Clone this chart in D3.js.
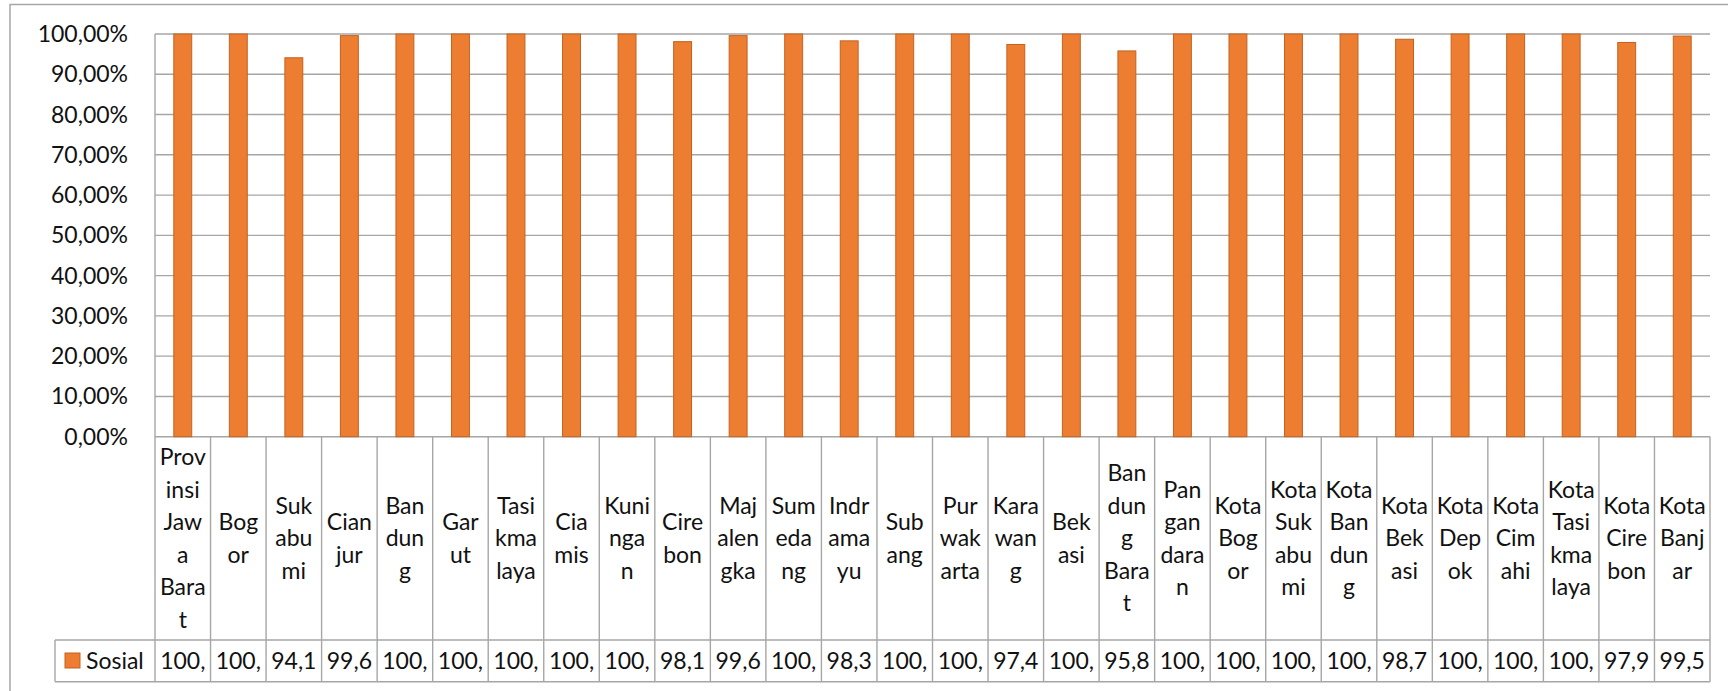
<!DOCTYPE html>
<html>
<head>
<meta charset="utf-8">
<script src="https://cdn.jsdelivr.net/npm/d3@7"></script>
<style>
	body { margin: 0; background: #fff; }
	svg { display: block; font-family: Lato, 'Open Sans', sans-serif; }
</style>
</head>
<body>
<script>
// data
const categories = ['Provinsi Jawa Barat', 'Bogor', 'Sukabumi', 'Cianjur', 'Bandung', 'Garut', 'Tasikmalaya',
	'Ciamis', 'Kuningan', 'Cirebon', 'Majalengka', 'Sumedang', 'Indramayu', 'Subang', 'Purwakarta',
	'Karawang', 'Bekasi', 'Bandung Barat', 'Pangandaran', 'Kota Bogor', 'Kota Sukabumi', 'Kota Bandung',
	'Kota Bekasi', 'Kota Depok', 'Kota Cimahi', 'Kota Tasikmalaya', 'Kota Cirebon', 'Kota Banjar'];

// how each name is broken inside its narrow table cell
const labelLines = [['Prov', 'insi', 'Jaw', 'a', 'Bara', 't'], ['Bog', 'or'], ['Suk', 'abu', 'mi'], ['Cian', 'jur'],
	['Ban', 'dun', 'g'], ['Gar', 'ut'], ['Tasi', 'kma', 'laya'], ['Cia', 'mis'], ['Kuni', 'nga', 'n'], ['Cire', 'bon'],
	['Maj', 'alen', 'gka'], ['Sum', 'eda', 'ng'], ['Indr', 'ama', 'yu'], ['Sub', 'ang'], ['Pur', 'wak', 'arta'],
	['Kara', 'wan', 'g'], ['Bek', 'asi'], ['Ban', 'dun', 'g', 'Bara', 't'], ['Pan', 'gan', 'dara', 'n'],
	['Kota', 'Bog', 'or'], ['Kota', 'Suk', 'abu', 'mi'], ['Kota', 'Ban', 'dun', 'g'], ['Kota', 'Bek', 'asi'],
	['Kota', 'Dep', 'ok'], ['Kota', 'Cim', 'ahi'], ['Kota', 'Tasi', 'kma', 'laya'], ['Kota', 'Cire', 'bon'],
	['Kota', 'Banj', 'ar']];

const seriesName = 'Sosial';
const sosial = [1.000, 1.000, 0.941, 0.996, 1.000, 1.000, 1.000, 1.000, 1.000, 0.981, 0.996, 1.000, 0.983, 1.000,
	1.000, 0.974, 1.000, 0.958, 1.000, 1.000, 1.000, 1.000, 0.987, 1.000, 1.000, 1.000, 0.979, 0.995];

const yTicks = [0, 0.1, 0.2, 0.3, 0.4, 0.5, 0.6, 0.7, 0.8, 0.9, 1];

const width = 1728;
const height = 691;
const plotLeft = 155, plotRight = 1710, plotTop = 34, zero = 436.7;
const rowTop = 640, rowBottom = 681.7, legendLeft = 55;
const grid = '#a6a6a6';
const orange = '#ed7d31';

const loc = d3.formatLocale({ decimal: ',', thousands: '.', grouping: [3], currency: ['', ''] });
const pct = loc.format('.2%');

const svg = d3.select('body').append('svg')
	.attr('width', width)
	.attr('height', height);

// chart area border (runs off the right and bottom of the picture)
svg.append('rect')
	.attr('x', 10).attr('y', 4.5)
	.attr('width', width).attr('height', height)
	.attr('fill', 'none').attr('stroke', grid).attr('stroke-width', 1.5);

const x = d3.scaleBand().domain(categories).range([plotLeft, plotRight]).padding(0);
const y = d3.scaleLinear().domain([0, 1]).range([zero, plotTop]);

// gridlines
svg.append('g').selectAll('line')
	.data(yTicks)
	.enter().append('line')
	.attr('x1', plotLeft).attr('x2', plotRight)
	.attr('y1', d => y(d)).attr('y2', d => y(d))
	.attr('stroke', grid).attr('stroke-width', 1.4);

svg.append('line')
	.attr('x1', plotLeft).attr('x2', plotLeft).attr('y1', plotTop).attr('y2', rowBottom)
	.attr('stroke', grid).attr('stroke-width', 1.4);

// y tick labels
svg.append('g').selectAll('text')
	.data(yTicks)
	.enter().append('text')
	.attr('x', 128)
	.attr('y', d => y(d))
	.attr('dy', '0.35em')
	.attr('text-anchor', 'end')
	.attr('font-size', 23)
	.attr('fill', '#111')
	.text(d => pct(d));

// bars, gap width 210%
const barW = x.bandwidth() / 3.1;
svg.append('g').selectAll('rect')
	.data(sosial)
	.enter().append('rect')
	.attr('x', (d, i) => x(categories[i]) + (x.bandwidth() - barW) / 2)
	.attr('y', d => y(d))
	.attr('width', barW)
	.attr('height', d => zero - y(d))
	.attr('fill', orange)
	.attr('stroke', '#c4621f').attr('stroke-width', 1);

// data table
const table = svg.append('g');

table.selectAll('line.col')
	.data(categories)
	.enter().append('line')
	.attr('class', 'col')
	.attr('x1', d => x(d) + x.bandwidth()).attr('x2', d => x(d) + x.bandwidth())
	.attr('y1', zero).attr('y2', rowBottom)
	.attr('stroke', grid).attr('stroke-width', 1.4);

table.append('line')
	.attr('x1', legendLeft).attr('x2', plotRight).attr('y1', rowTop).attr('y2', rowTop)
	.attr('stroke', grid).attr('stroke-width', 1.4);
table.append('line')
	.attr('x1', legendLeft).attr('x2', plotRight).attr('y1', rowBottom).attr('y2', rowBottom)
	.attr('stroke', grid).attr('stroke-width', 1.4);
table.append('line')
	.attr('x1', legendLeft).attr('x2', legendLeft).attr('y1', rowTop).attr('y2', rowBottom)
	.attr('stroke', grid).attr('stroke-width', 1.4);

// category names in the header cells
const lineH = 32.5;
const headMid = (zero + rowTop) / 2;
const heads = table.selectAll('text.cat')
	.data(categories)
	.enter().append('text')
	.attr('class', 'cat')
	.attr('text-anchor', 'middle')
	.attr('font-size', 23)
	.attr('fill', '#111');

heads.each(function(d, i) {
	const lines = labelLines[i];
	const start = headMid - (lines.length - 1) * lineH / 2;
	d3.select(this).selectAll('tspan')
		.data(lines)
		.enter().append('tspan')
		.attr('x', x(d) + x.bandwidth() / 2)
		.attr('y', (l, j) => start + j * lineH)
		.attr('dy', '0.35em')
		.text(l => l);
});

// value row, the cell only has room for four characters
const rowMid = (rowTop + rowBottom) / 2;
table.selectAll('text.val')
	.data(sosial)
	.enter().append('text')
	.attr('class', 'val')
	.attr('x', (d, i) => x(categories[i]) + x.bandwidth() / 2)
	.attr('y', rowMid)
	.attr('dy', '0.35em')
	.attr('text-anchor', 'middle')
	.attr('font-size', 23)
	.attr('fill', '#111')
	.text(d => pct(d).slice(0, 4));

// legend key
table.append('rect')
	.attr('x', 65).attr('y', 653)
	.attr('width', 15).attr('height', 15)
	.attr('fill', orange).attr('stroke', '#c4621f').attr('stroke-width', 1);
table.append('text')
	.attr('x', 86).attr('y', rowMid)
	.attr('dy', '0.35em')
	.attr('font-size', 23)
	.attr('fill', '#111')
	.text(seriesName);
</script>
</body>
</html>
